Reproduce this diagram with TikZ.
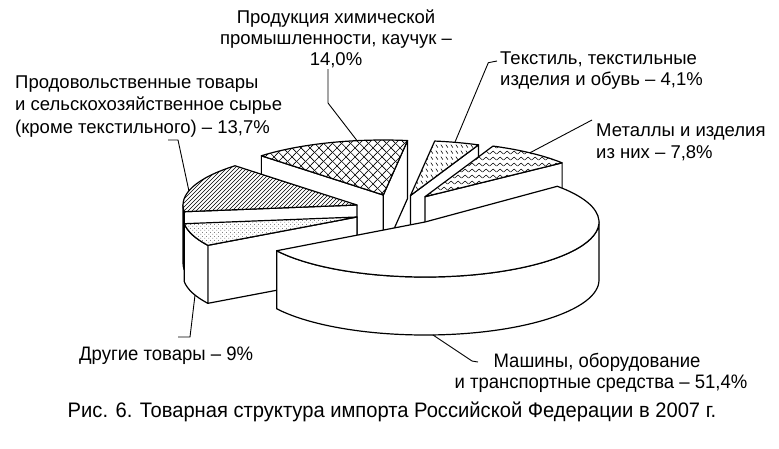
\documentclass[tikz,border=0pt]{standalone}
\usepackage{fontspec}
\setmainfont{Liberation Sans}
\newfontfamily\narrowfont[FakeStretch=0.95]{Liberation Sans}
\newfontfamily\capfont[FakeStretch=0.96]{Liberation Sans}
\usetikzlibrary{patterns,calc}

\pgfdeclarepatternformonly{foodh}{\pgfqpoint{0pt}{0pt}}{\pgfqpoint{4.4pt}{4.4pt}}{\pgfqpoint{4.4pt}{4.4pt}}{%
  \pgfsetlinewidth{0.5pt}%
  \pgfpathmoveto{\pgfqpoint{-1pt}{-1pt}}\pgfpathlineto{\pgfqpoint{5.4pt}{5.4pt}}%
  \pgfpathmoveto{\pgfqpoint{-1pt}{3.4pt}}\pgfpathlineto{\pgfqpoint{1pt}{5.4pt}}%
  \pgfpathmoveto{\pgfqpoint{3.4pt}{-1pt}}\pgfpathlineto{\pgfqpoint{5.4pt}{1pt}}%
  \pgfusepath{stroke}}
\pgfdeclarepatternformonly{chemx}{\pgfqpoint{0pt}{0pt}}{\pgfqpoint{9pt}{9pt}}{\pgfqpoint{9pt}{9pt}}{%
  \pgfsetlinewidth{0.7pt}%
  \pgfpathmoveto{\pgfqpoint{-1pt}{-1pt}}\pgfpathlineto{\pgfqpoint{10pt}{10pt}}%
  \pgfpathmoveto{\pgfqpoint{-1pt}{10pt}}\pgfpathlineto{\pgfqpoint{10pt}{-1pt}}%
  \pgfusepath{stroke}}
\pgfdeclarepatternformonly{otherd}{\pgfqpoint{0pt}{0pt}}{\pgfqpoint{4.2pt}{4.2pt}}{\pgfqpoint{4.2pt}{4.2pt}}{%
  \pgfpathcircle{\pgfqpoint{1pt}{1pt}}{0.45pt}%
  \pgfpathcircle{\pgfqpoint{3.1pt}{3.1pt}}{0.45pt}%
  \pgfusepath{fill}}
\pgfdeclarepatternformonly{textd}{\pgfqpoint{0pt}{0pt}}{\pgfqpoint{5pt}{6pt}}{\pgfqpoint{5pt}{6pt}}{%
  \pgfsetlinewidth{0.6pt}%
  \pgfpathmoveto{\pgfqpoint{1pt}{5pt}}\pgfpathlineto{\pgfqpoint{3.5pt}{1.5pt}}%
  \pgfusepath{stroke}}
\pgfdeclarepatternformonly{metz}{\pgfqpoint{0pt}{0pt}}{\pgfqpoint{7pt}{6pt}}{\pgfqpoint{7pt}{6pt}}{%
  \pgfsetlinewidth{0.6pt}%
  \pgfpathmoveto{\pgfqpoint{-0.5pt}{1pt}}\pgfpathlineto{\pgfqpoint{3.5pt}{4.5pt}}\pgfpathlineto{\pgfqpoint{7.5pt}{1pt}}%
  \pgfusepath{stroke}}

\begin{document}
\begin{tikzpicture}[x=1pt,y=-1pt,
  ell/.style={x radius=174, y radius=55},
  sideface/.style={fill=white, draw=black, line width=1.2pt, line join=round},
  topface/.style={preaction={fill=white}, draw=black, line width=1.2pt, line join=round},
  leaderln/.style={draw=black, line width=0.9pt},
  lbl/.style={font=\fontsize{18.5}{22}\selectfont, inner sep=0pt},
  lowlbl/.style={font=\narrowfont\fontsize{19.5}{22}\selectfont, inner sep=0pt},
  caplbl/.style={font=\capfont\fontsize{21}{24}\selectfont, inner sep=0pt}]
\useasboundingbox (0,0) rectangle (779,448);
\fill[white] (0,0) rectangle (779,448);

% apexes of the slices
\coordinate (chA) at (383.3,195);
\coordinate (txA) at (410.5,195.5);
\coordinate (meA) at (425,196.7);
\coordinate (foA) at (357,205);
\coordinate (otA) at (357,217);
\coordinate (bgA) at (425,222);

% chemistry
\filldraw[sideface] (chA) -- ([shift={(chA)}]-82:174 and 55) -- ++(0,58) -- ([shift={(chA)}]0,58) -- cycle;
\filldraw[sideface] (chA) -- ([shift={(chA)}]-134.5:174 and 55) -- ++(0,58) -- ([shift={(chA)}]0,58) -- cycle;
\path[topface, pattern=chemx] (chA) -- ([shift={(chA)}]-82:174 and 55) arc[ell, start angle=-82, end angle=-134.5] -- cycle;

% textiles
\filldraw[sideface] (txA) -- ([shift={(txA)}]-67:174 and 55) -- ++(0,58) -- ([shift={(txA)}]0,58) -- cycle;
\path[topface, pattern=textd] (txA) -- ([shift={(txA)}]-67:174 and 55) arc[ell, start angle=-67, end angle=-82] -- cycle;

% metals
\filldraw[sideface] (meA) -- ([shift={(meA)}]-38:174 and 55) -- ++(0,58) -- ([shift={(meA)}]0,58) -- cycle;
\path[topface, pattern=metz] (meA) -- ([shift={(meA)}]-38:174 and 55) arc[ell, start angle=-38, end angle=-67] -- cycle;

% food
\filldraw[sideface] (foA) -- ([shift={(foA)}]-187:174 and 55) -- ++(0,58) -- ([shift={(foA)}]0,58) -- cycle;
\filldraw[sideface] ([shift={(foA)}]-180:174 and 55) arc[ell, start angle=-180, end angle=-187] -- ++(0,58) arc[ell, start angle=-187, end angle=-180] -- cycle;
\path[topface, pattern=foodh] (foA) -- ([shift={(foA)}]-134.5:174 and 55) arc[ell, start angle=-134.5, end angle=-187] -- cycle;

% other
\filldraw[sideface] (otA) -- ([shift={(otA)}]-211:174 and 55) -- ++(0,58) -- ([shift={(otA)}]0,58) -- cycle;
\filldraw[sideface] ([shift={(otA)}]-187:174 and 55) arc[ell, start angle=-187, end angle=-211] -- ++(0,58) arc[ell, start angle=-211, end angle=-187] -- cycle;
\path[topface, pattern=otherd] (otA) -- ([shift={(otA)}]-187:174 and 55) arc[ell, start angle=-187, end angle=-211] -- cycle;

% machines
\filldraw[sideface] ([shift={(bgA)}]-211.5:174 and 55) arc[ell, start angle=-211.5, end angle=-360] -- ++(0,58) arc[ell, start angle=-360, end angle=-211.5] -- cycle;
\filldraw[sideface] (bgA) -- ([shift={(bgA)}]-211.5:174 and 55) arc[ell, start angle=-211.5, end angle=-400.5] -- cycle;

% labels
\node[lbl, anchor=base] (ch1) at (336,23) {Продукция химической};
\node[lbl, anchor=base] (ch2) at (336,44.5) {промышленности, каучук –};
\node[lbl, anchor=base] (ch3) at (336,65.5) {14,0\%};
\node[lbl, anchor=base west] (tx1) at (500,64.5) {Текстиль, текстильные};
\node[lbl, anchor=base west] (tx2) at (500,85.5) {изделия и обувь – 4,1\%};
\node[lbl, anchor=base west] (me1) at (596,136.5) {Металлы и изделия};
\node[lbl, anchor=base west] (me2) at (596,158.5) {из них – 7,8\%};
\node[lbl, anchor=base west] (fo1) at (15,88.5) {Продовольственные товары};
\node[lbl, anchor=base west] (fo2) at (15,110.5) {и сельскохозяйственное сырье};
\node[lbl, anchor=base west] (fo3) at (15,133) {(кроме текстильного) – 13,7\%};
\node[lbl, lowlbl, anchor=base west] (ot1) at (79,360) {Другие товары – 9\%};
\node[lbl, lowlbl, anchor=base] (bg1) at (597,367) {Машины, оборудование};
\node[lbl, lowlbl, anchor=base] (bg2) at (601,388) {и транспортные средства – 51,4\%};
\node[caplbl, anchor=base] (cap) at (392,417) {Рис. 6. Товарная структура импорта Российской Федерации в 2007 г.};

% leaders
\coordinate (chL0) at (328,69);
\coordinate (chL1) at (328,103);
\coordinate (chL2) at (357,140.6);
\draw[leaderln] (chL0) -- (chL1) -- (chL2);
\coordinate (txL0) at (497,61);
\coordinate (txL1) at (488.3,62.7);
\coordinate (txL2) at (454.9,142.3);
\draw[leaderln] (txL0) -- (txL1) -- (txL2);
\coordinate (meL0) at (592,120);
\coordinate (meL1) at (529.9,152.8);
\draw[leaderln] (meL0) -- (meL1);
\coordinate (foL0) at (168,140);
\coordinate (foL1) at (178,140);
\coordinate (foL2) at (188.9,190.8);
\draw[leaderln] (foL0) -- (foL1) -- (foL2);
\coordinate (otL0) at (195,295.1);
\coordinate (otL1) at (190,337);
\coordinate (otL2) at (178,337);
\draw[leaderln] (otL0) -- (otL1) -- (otL2);
\coordinate (bgL0) at (432.9,334.9);
\coordinate (bgL1) at (472,361);
\coordinate (bgL2) at (478,362);
\draw[leaderln] (bgL0) -- (bgL1) -- (bgL2);
\end{tikzpicture}
\end{document}
